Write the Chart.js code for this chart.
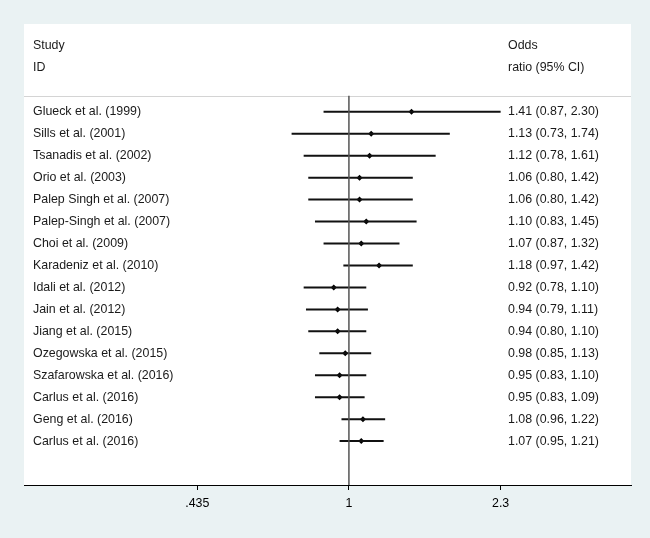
<!DOCTYPE html>
<html>
<head>
<meta charset="utf-8">
<script src="https://cdn.jsdelivr.net/npm/chart.js@4.4.1/dist/chart.umd.min.js"></script>
<style>
    html, body { margin: 0; padding: 0; background: #eaf2f3; }
    #wrap { width: 650px; height: 538px; position: relative; }
</style>
</head>
<body>
<div id="wrap"><canvas id="forest"></canvas></div>
<script>
// study data
const studies = [
    'Glueck et al. (1999)',
    'Sills et al. (2001)',
    'Tsanadis et al. (2002)',
    'Orio et al. (2003)',
    'Palep Singh et al. (2007)',
    'Palep-Singh et al. (2007)',
    'Choi et al. (2009)',
    'Karadeniz et al. (2010)',
    'Idali et al. (2012)',
    'Jain et al. (2012)',
    'Jiang et al. (2015)',
    'Ozegowska et al. (2015)',
    'Szafarowska et al. (2016)',
    'Carlus et al. (2016)',
    'Geng et al. (2016)',
    'Carlus et al. (2016)'
];
const oddsRatio = [1.41, 1.13, 1.12, 1.06, 1.06, 1.10, 1.07, 1.18, 0.92, 0.94, 0.94, 0.98, 0.95, 0.95, 1.08, 1.07];
const ciLower   = [0.87, 0.73, 0.78, 0.80, 0.80, 0.83, 0.87, 0.97, 0.78, 0.79, 0.80, 0.85, 0.83, 0.83, 0.96, 0.95];
const ciUpper   = [2.30, 1.74, 1.61, 1.42, 1.42, 1.45, 1.32, 1.42, 1.10, 1.11, 1.10, 1.13, 1.10, 1.09, 1.22, 1.21];

const xTickValues = [0.435, 1, 2.3];
const xTickLabels = ['.435', '1', '2.3'];

const headerLeft = ['Study', 'ID'];
const headerRight = ['Odds', 'ratio (95% CI)'];

const FONT = '12.4px "Liberation Sans", Arial, Helvetica, sans-serif';
const HEADER_LINE_Y = -0.73;

function fmt(v) { return v.toFixed(2); }

const datasets = [];

// reference line at OR = 1
datasets.push({
    data: [{ x: 1, y: HEADER_LINE_Y }, { x: 1, y: 17 }],
    showLine: true,
    borderColor: '#555555',
    borderWidth: 1.5,
    pointRadius: 0
});

// confidence intervals
studies.forEach(function (name, i) {
    datasets.push({
        data: [{ x: ciLower[i], y: i }, { x: ciUpper[i], y: i }],
        showLine: true,
        borderColor: '#111111',
        borderWidth: 2,
        pointRadius: 0
    });
});

// point estimates
datasets.push({
    data: oddsRatio.map(function (v, i) { return { x: v, y: i }; }),
    showLine: false,
    pointStyle: 'rectRot',
    pointRadius: 3,
    backgroundColor: '#000000',
    borderColor: '#000000',
    borderWidth: 0
});

const panelPlugin = {
    id: 'panel',
    beforeDraw(chart) {
        const a = chart.chartArea;
        const ctx = chart.ctx;
        ctx.save();
        ctx.fillStyle = '#ffffff';
        ctx.fillRect(a.left, a.top, a.right - a.left, a.bottom - a.top);
        ctx.restore();
    },
    beforeDatasetsDraw(chart) {
        const a = chart.chartArea;
        const ctx = chart.ctx;
        const y = chart.scales.y;
        ctx.save();
        ctx.strokeStyle = '#d4d4d4';
        ctx.lineWidth = 1.2;
        const ly = Math.round(y.getPixelForValue(HEADER_LINE_Y)) + 0.5;
        ctx.beginPath();
        ctx.moveTo(a.left, ly);
        ctx.lineTo(a.right, ly);
        ctx.stroke();
        ctx.restore();
    },
    afterDraw(chart) {
        const a = chart.chartArea;
        const ctx = chart.ctx;
        const y = chart.scales.y;
        const leftX = a.left + 9;
        const rightX = a.left + 484;
        ctx.save();
        ctx.font = FONT;
        ctx.fillStyle = '#1a1a1a';
        ctx.textAlign = 'left';
        ctx.textBaseline = 'middle';
        headerLeft.forEach(function (t, k) { ctx.fillText(t, leftX, y.getPixelForValue(k - 3)); });
        headerRight.forEach(function (t, k) { ctx.fillText(t, rightX, y.getPixelForValue(k - 3)); });
        studies.forEach(function (name, i) {
            const py = y.getPixelForValue(i);
            ctx.fillText(name, leftX, py);
            ctx.fillText(fmt(oddsRatio[i]) + ' (' + fmt(ciLower[i]) + ', ' + fmt(ciUpper[i]) + ')', rightX, py);
        });
        ctx.restore();
    }
};

new Chart(document.getElementById('forest').getContext('2d'), {
    type: 'scatter',
    data: { datasets: datasets },
    options: {
        responsive: true,
        maintainAspectRatio: false,
        animation: false,
        layout: { padding: { left: 24, top: 24, right: 19, bottom: 0 } },
        plugins: { legend: { display: false }, tooltip: { enabled: false } },
        scales: {
            x: {
                type: 'logarithmic',
                min: 0.168,
                max: 4.705,
                afterBuildTicks(scale) {
                    scale.ticks = xTickValues.map(function (v) { return { value: v }; });
                },
                afterFit(scale) { scale.height = 53; },
                border: { display: true, color: '#000000', width: 1 },
                grid: { drawOnChartArea: false, drawTicks: true, tickLength: 5, color: '#000000' },
                ticks: {
                    autoSkip: false,
                    maxRotation: 0,
                    padding: 6,
                    color: '#000000',
                    font: { family: '"Liberation Sans", Arial, Helvetica, sans-serif', size: 12.4 },
                    callback: function (v, i) { return xTickLabels[i]; }
                }
            },
            y: {
                type: 'linear',
                reverse: true,
                min: -4,
                max: 17,
                display: false
            }
        }
    },
    plugins: [panelPlugin]
});
</script>
</body>
</html>
